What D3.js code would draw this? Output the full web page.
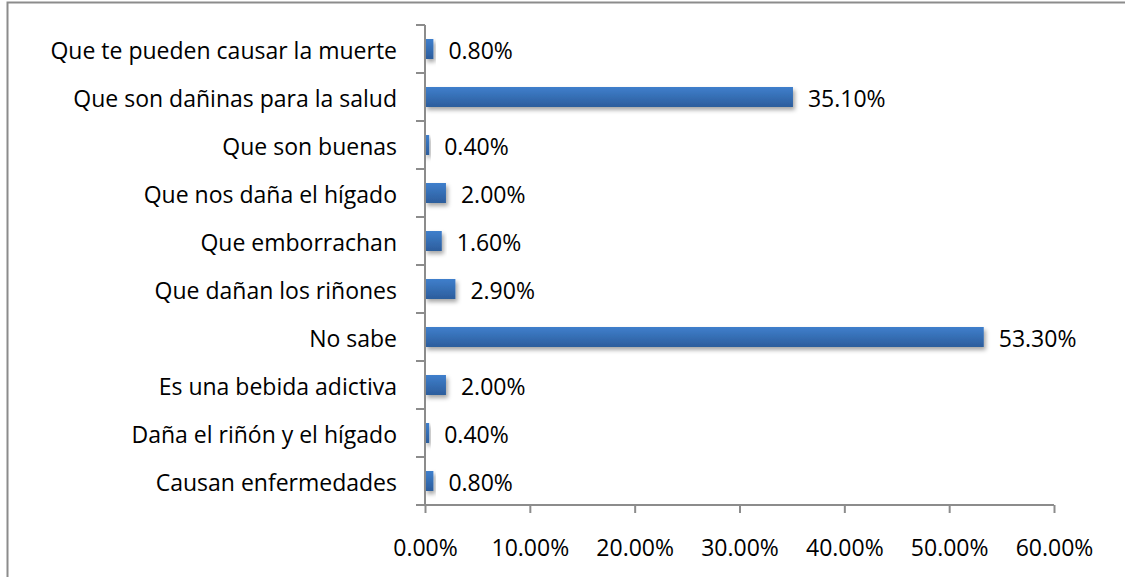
<!DOCTYPE html>
<html>
<head>
<meta charset="utf-8">
<title>Bebidas</title>
<script src="https://d3js.org/d3.v7.min.js"></script>
<style>
  body { margin: 0; background: #fff; }
  svg text { font-family: "Open Sans", Lato, sans-serif; fill: #000; }
</style>
</head>
<body>
<svg id="chart" width="1125" height="577"></svg>
<script>
// categories, top to bottom as drawn
var categories = [
  "Que te pueden causar la muerte",
  "Que son dañinas para la salud",
  "Que son buenas",
  "Que nos daña el hígado",
  "Que emborrachan",
  "Que dañan los riñones",
  "No sabe",
  "Es una bebida adictiva",
  "Daña el riñón y el hígado",
  "Causan enfermedades"
];
var values = [0.8, 35.1, 0.4, 2.0, 1.6, 2.9, 53.3, 2.0, 0.4, 0.8];
var xTicks = [0, 10, 20, 30, 40, 50, 60];

var svg = d3.select("#chart");
var fontSize = "23px";

// outer frame (only top and left edges show in the picture)
svg.append("rect")
    .attr("x", 7.5).attr("y", 2.5)
    .attr("width", 1140).attr("height", 600)
    .attr("fill", "none")
    .attr("stroke", "#8c8c8c")
    .attr("stroke-width", 2);

var defs = svg.append("defs");
var grad = defs.append("linearGradient")
    .attr("id", "barGrad")
    .attr("x1", 0).attr("y1", 0).attr("x2", 0).attr("y2", 1);
grad.append("stop").attr("offset", "0%").attr("stop-color", "#3f7fcc");
grad.append("stop").attr("offset", "100%").attr("stop-color", "#2c5d9c");

var shadow = defs.append("filter")
    .attr("id", "shadow")
    .attr("x", "-20%").attr("y", "-50%")
    .attr("width", "150%").attr("height", "250%");
shadow.append("feDropShadow")
    .attr("dx", 2).attr("dy", 3)
    .attr("stdDeviation", 2)
    .attr("flood-color", "#000")
    .attr("flood-opacity", 0.35);

var plotLeft = 425, plotRight = 1054, plotTop = 25, plotBottom = 505;

var x = d3.scaleLinear().domain([0, 60]).range([plotLeft, plotRight]);
var y = d3.scaleBand().domain(categories).range([plotTop, plotBottom]);

// bars
svg.append("g").selectAll("rect")
    .data(values)
    .enter().append("rect")
    .attr("x", x(0))
    .attr("y", function(d, i) { return y(categories[i]) + y.bandwidth() / 2 - 10; })
    .attr("width", function(d) { return x(d) - x(0); })
    .attr("height", 20)
    .attr("fill", "url(#barGrad)")
    .attr("filter", "url(#shadow)");

// data labels
svg.append("g").selectAll("text")
    .data(values)
    .enter().append("text")
    .attr("x", function(d) { return x(d) + 15; })
    .attr("y", function(d, i) { return y(categories[i]) + y.bandwidth() / 2 + 10; })
    .style("font-size", fontSize)
    .text(function(d) { return d.toFixed(2) + "%"; });

// x axis
var xAxis = d3.axisBottom(x)
    .tickValues(xTicks)
    .tickSize(8)
    .tickPadding(27)
    .tickFormat(function(d) { return d.toFixed(2) + "%"; });
var gx = svg.append("g")
    .attr("transform", "translate(0," + plotBottom + ")")
    .call(xAxis);
gx.select(".domain").attr("stroke", "#8c8c8c").attr("stroke-width", 2)
    .attr("d", "M" + x(0) + ",0H" + plotRight);
gx.selectAll(".tick line").attr("stroke", "#8c8c8c").attr("stroke-width", 2);
gx.selectAll(".tick text").style("font-size", fontSize).style("font-family", "'Open Sans', Lato, sans-serif");

// y axis: ticks at band boundaries, labels centered in bands
var boundaries = categories.map(function(c) { return y(c); }).concat([plotBottom]);
var gy = svg.append("g");
gy.append("line")
    .attr("x1", plotLeft).attr("x2", plotLeft)
    .attr("y1", plotTop).attr("y2", plotBottom)
    .attr("stroke", "#8c8c8c").attr("stroke-width", 2);
gy.selectAll("line.tick")
    .data(boundaries)
    .enter().append("line")
    .attr("class", "tick")
    .attr("x1", plotLeft - 9).attr("x2", plotLeft)
    .attr("y1", function(d) { return d; }).attr("y2", function(d) { return d; })
    .attr("stroke", "#8c8c8c").attr("stroke-width", 2);
gy.selectAll("text")
    .data(categories)
    .enter().append("text")
    .attr("x", plotLeft - 28)
    .attr("y", function(d) { return y(d) + y.bandwidth() / 2 + 10; })
    .attr("text-anchor", "end")
    .style("font-size", fontSize)
    .text(function(d) { return d; });
</script>
</body>
</html>
